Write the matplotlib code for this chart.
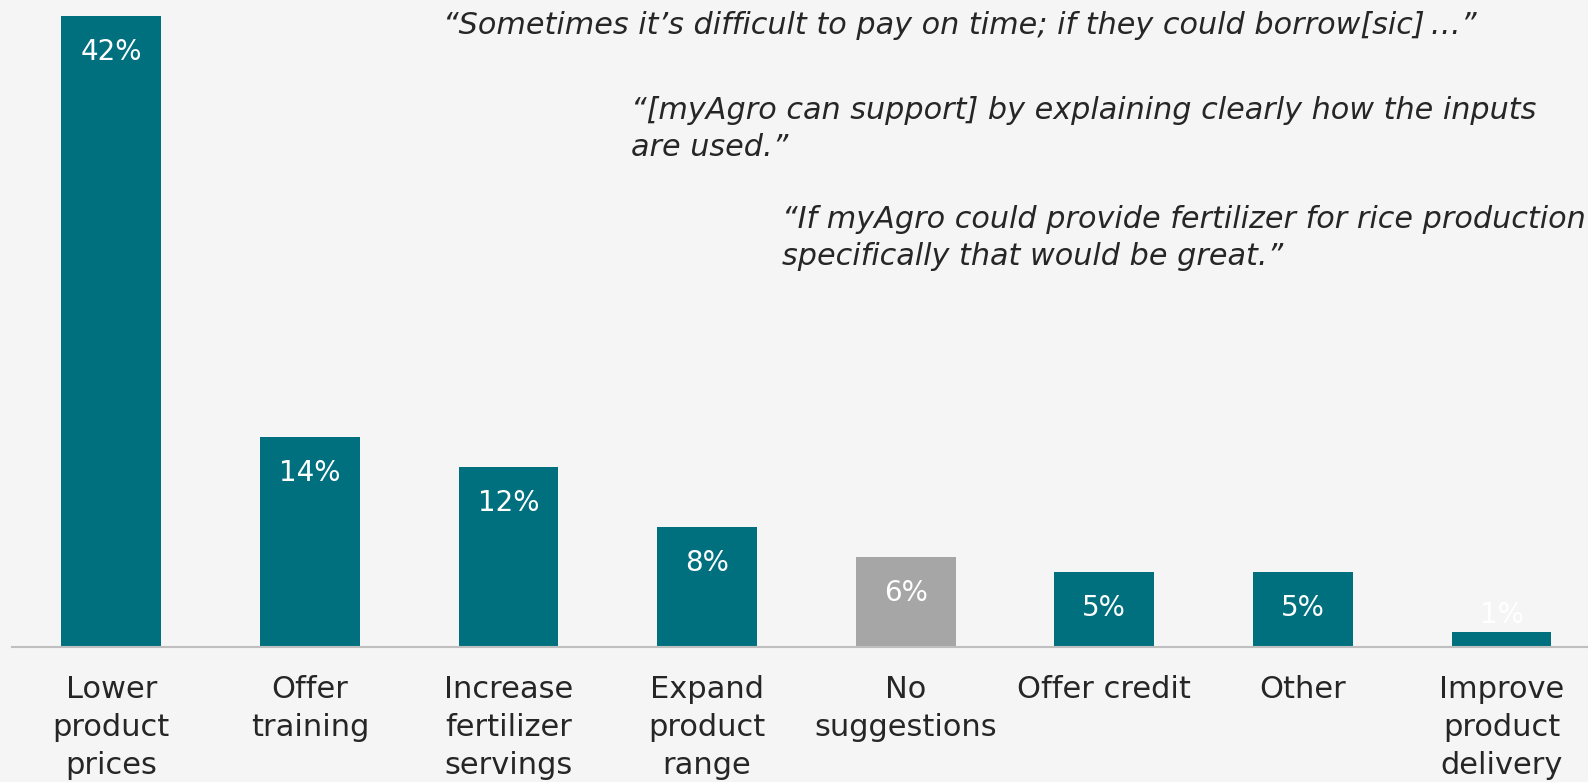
import matplotlib.pyplot as plt
import numpy as np

plt.rcParams['font.family'] = ['DejaVu Sans']

categories = ['Lower\nproduct\nprices', 'Offer\ntraining', 'Increase\nfertilizer\nservings',
              'Expand\nproduct\nrange', 'No\nsuggestions', 'Offer credit', 'Other',
              'Improve\nproduct\ndelivery']
shares = [42, 14, 12, 8, 6, 5, 5, 1]
bar_colors = ['#00707f'] * 4 + ['#a6a6a6'] + ['#00707f'] * 3

quotes = [
    '\u201cSometimes it\u2019s difficult to pay on time; if they could borrow[sic]\u2009\u2026\u201d',
    '\u201c[myAgro can support] by explaining clearly how the inputs\nare used.\u201d',
    '\u201cIf myAgro could provide fertilizer for rice production\nspecifically that would be great.\u201d',
]

bg = '#f5f5f5'
ink = '#262626'
W, H = 1588, 782

fig = plt.figure(figsize=(W / 100, H / 100), dpi=100, facecolor=bg)
ax = fig.add_axes([12 / W, 135 / H, 8 * 198.6 / W, 631 / H])
ax.set_facecolor(bg)

x = np.arange(len(shares))
bars = ax.bar(x, shares, width=0.503, color=bar_colors)

for rect, v in zip(bars, shares):
    cx = rect.get_x() + rect.get_width() / 2
    if v >= 3:
        ax.annotate(f'{v}%', (cx, v), xytext=(0, -26), textcoords='offset points',
                    ha='center', va='center', color='white', fontsize=20)
    else:
        # too thin to hold the label, so it sits just above the bar
        ax.annotate(f'{v}%', (cx, v), xytext=(0, 12), textcoords='offset points',
                    ha='center', va='center', color='white', fontsize=20)

ax.set_xlim(-0.5, len(shares) - 0.5)
ax.set_ylim(0, 42)
ax.set_yticks([])
ax.set_xticks(x, categories, fontsize=22, color=ink, linespacing=1.39)
ax.tick_params(axis='x', length=0, pad=20)
for s in ['top', 'left', 'right']:
    ax.spines[s].set_visible(False)
ax.spines['bottom'].set_color('#bfbfbf')
ax.spines['bottom'].set_linewidth(1.5)

# quotes, positioned in pixels from the top-left corner
quote_pos = [(443, 26), (631, 129), (782, 238)]
for q, (px, py) in zip(quotes, quote_pos):
    fig.text(px / W, 1 - py / H, q, ha='left', va='center', fontsize=21.8,
             style='italic', color=ink, linespacing=1.32)

fig.savefig('out.png', dpi=100, facecolor=bg)
